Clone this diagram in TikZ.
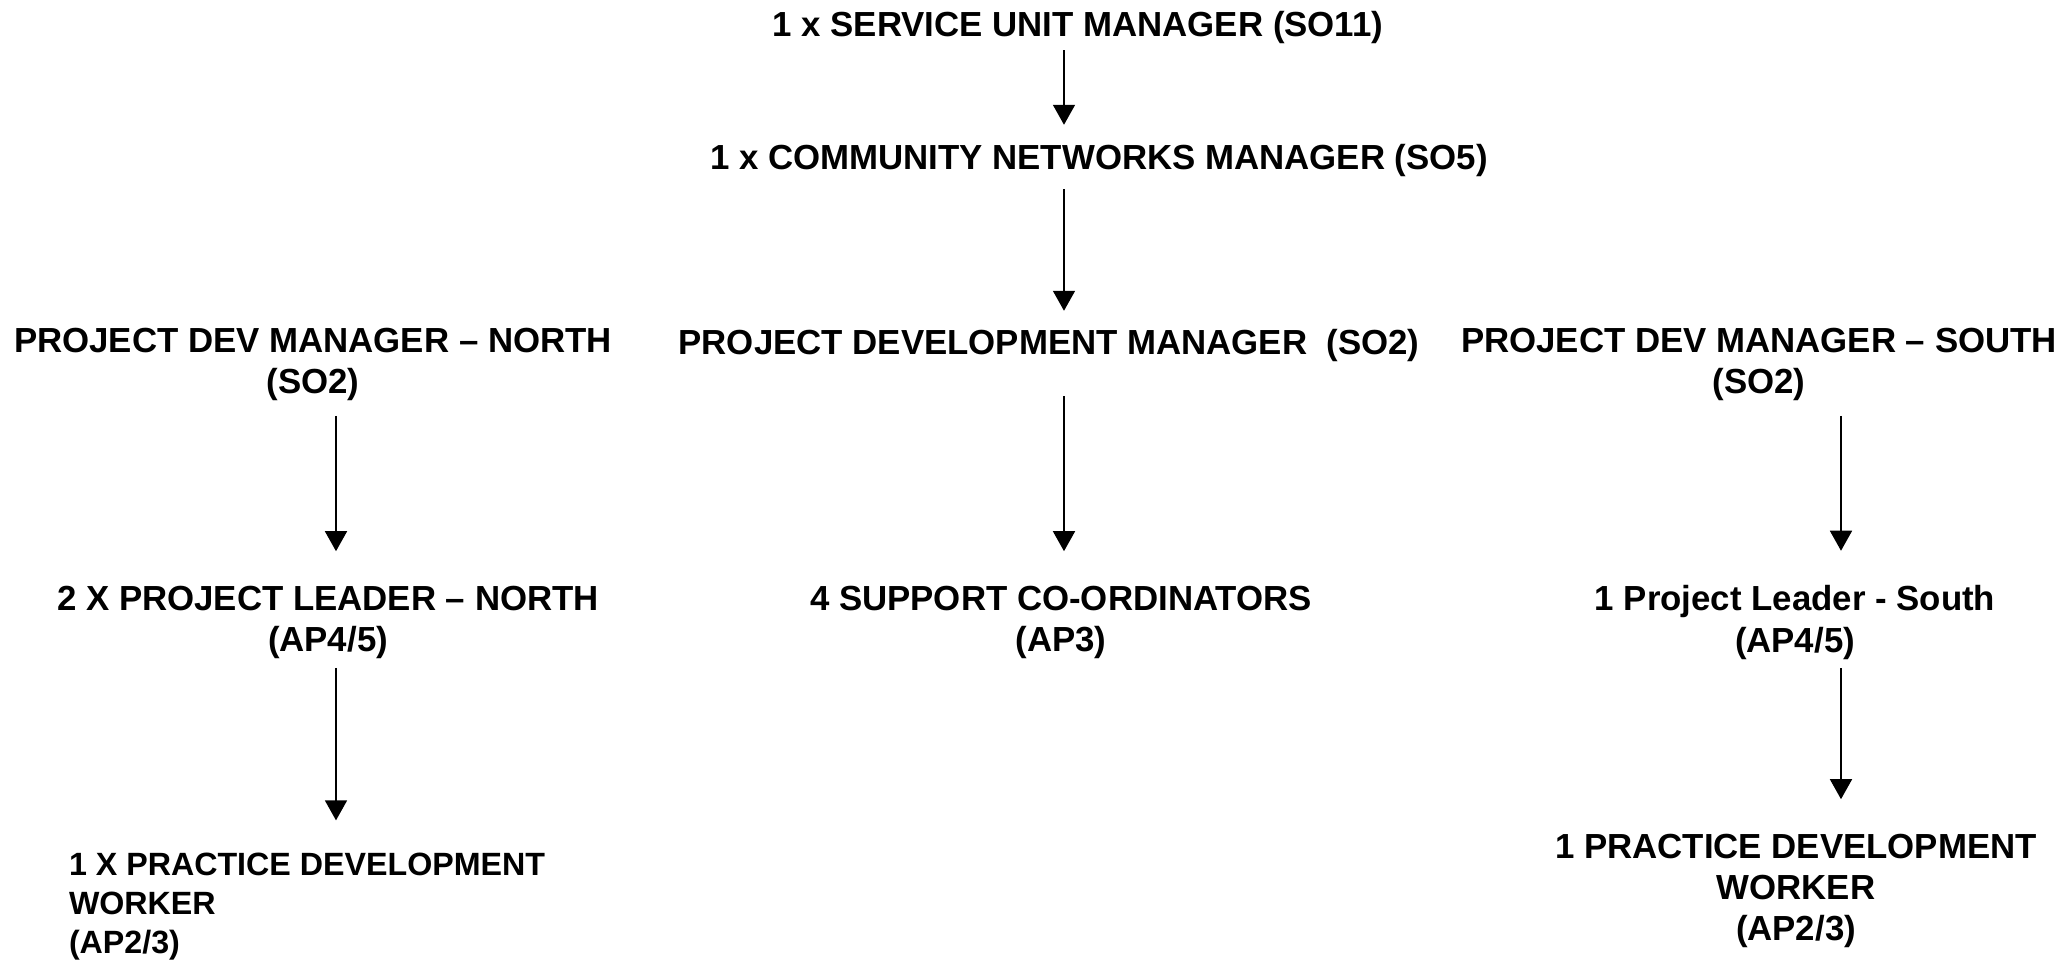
\documentclass[tikz,border=0pt]{standalone}
\usepackage{fontspec}
\setmainfont{Liberation Sans}
\usetikzlibrary{arrows.meta}

\tikzset{
  post/.style={font=\fontsize{9.9}{11.67}\selectfont\bfseries, align=center, inner sep=0pt, outer sep=0pt},
  postleft/.style={post, font=\fontsize{9.16}{11.1}\selectfont\bfseries, align=left, anchor=west},
  link/.style={line width=0.45pt, -{Triangle[length=2mm, width=2.2mm]}}
}

\begin{document}
\begin{tikzpicture}[x=0.01cm, y=-0.01cm]
  \useasboundingbox (0,0) rectangle (2071,960);

  % arrow columns
  \coordinate (colN) at (336,0);
  \coordinate (colM) at (1064,0);
  \coordinate (colS) at (1841,0);

  \node[post] (sum) at (1078,27) {1 x SERVICE UNIT MANAGER (SO11)};
  \node[post] (cnm) at (1099,160) {1 x COMMUNITY NETWORKS MANAGER (SO5)};
  \node[post] (pdm) at (1049,345) {PROJECT DEVELOPMENT MANAGER\ \ (SO2)};
  \node[post] (pdmN) at (313,364.5) {PROJECT DEV MANAGER – NORTH\\(SO2)};
  \node[post] (pdmS) at (1759,364.5) {PROJECT DEV MANAGER – SOUTH\\(SO2)};

  \node[post] (plN) at (328,622.5) {2 X PROJECT LEADER – NORTH\\(AP4/5)};
  \node[post] (sco) at (1061,622.5) {4 SUPPORT CO-ORDINATORS\\(AP3)};
  \node[post] (plS) at (1795,622.5) {1 Project Leader - South\\(AP4/5)};

  \node[postleft] (pdwN) at (69,907) {1 X PRACTICE DEVELOPMENT\\WORKER\\(AP2/3)};
  \node[post] (pdwS) at (1796,891) {1 PRACTICE DEVELOPMENT\\WORKER\\(AP2/3)};

  % centre line
  \draw[link, shorten <=0.7mm, shorten >=1.9mm] (sum.south -| colM) -- (cnm.north -| colM);
  \draw[link, shorten <=1.3mm, shorten >=1.8mm] (cnm.south -| colM) -- (pdm.north -| colM);
  \draw[link, shorten <=3.5mm, shorten >=3.5mm] (pdm.south -| colM) -- (sco.north -| colM);

  % north
  \draw[link, shorten <=1.5mm, shorten >=3.5mm] (pdmN.south -| colN) -- (plN.north -| colN);
  \draw[link, shorten <=0.9mm, shorten >=3.3mm] (plN.south -| colN) -- (pdwN.north -| colN);

  % south
  \draw[link, shorten <=1.5mm, shorten >=3.5mm] (pdmS.south -| colS) -- (plS.north -| colS);
  \draw[link, shorten <=0.9mm, shorten >=3.5mm] (plS.south -| colS) -- (pdwS.north -| colS);

\end{tikzpicture}
\end{document}
